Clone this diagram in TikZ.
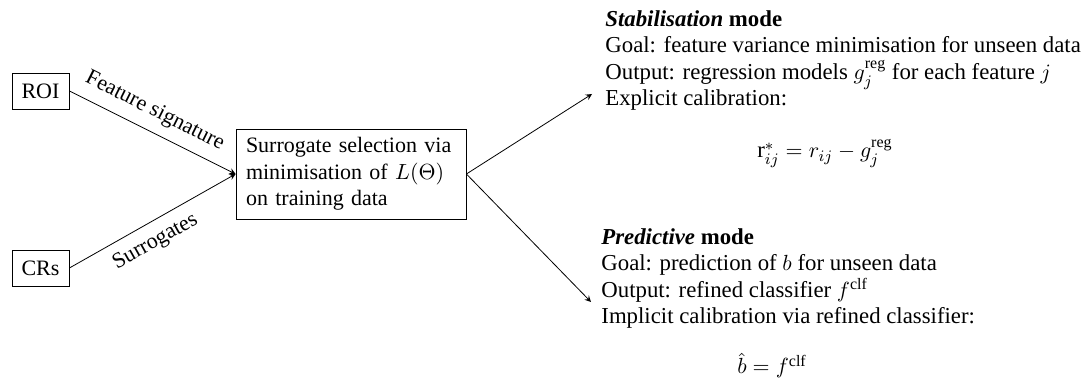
\documentclass[tikz,border=0pt]{standalone}
\usepackage{amsmath}
\usepackage{fontspec}
\setmainfont{Liberation Serif}
\usepackage{tikz}

\begin{document}
\begin{tikzpicture}[x=0.5pt,y=-0.5pt,>=stealth,
    every node/.style={font=\fontsize{11}{13.25}\selectfont},
    box/.style={draw,inner sep=3pt},
    txt/.style={align=left,inner sep=0pt,font=\fontsize{11.4}{13.25}\selectfont}]
      \useasboundingbox (0,0) rectangle (1081,384);
      \node[box,minimum width=28.5pt,minimum height=18pt] (roi) at (40.5,91) {ROI};
      \node[box,minimum width=28.5pt,minimum height=18pt] (crs) at (40.5,268) {CRs};
      \node[box,align=left,text width=105pt,inner xsep=5pt,minimum height=45pt] (sel) at (351,174) {Surrogate selection via\\minimisation of $L(\Theta)$\\on training data};
      \coordinate (stab) at (592,94);
      \coordinate (pred) at (591,302);
      \draw[->] (roi.east) -- (sel.west) node[pos=0.46,above=1.5pt,sloped] {Feature signature};
      \draw[->] (crs.east) -- (sel.west) node[pos=0.46,below=1.5pt,sloped] {Surrogates};
      \draw[->] (sel.east) -- (stab);
      \draw[->] (sel.east) -- (pred);
      % stabilisation mode
      \node[txt,anchor=base west] (stabtxt) at (605,106) {\textbf{\textit{Stabilisation}} \textbf{mode}\\
        Goal: feature variance minimisation for unseen data\\
        Output: regression models $g_j^{\mathrm{reg}}$ for each feature $j$\\
        Explicit calibration:};
      \node[txt,anchor=base] (stabeq) at (825,158) {$\mathrm{r}^*_{ij} = r_{ij} - g_j^{\mathrm{reg}}$};
      % predictive mode
      \node[txt,anchor=base west] (predtxt) at (601,324) {\textbf{\textit{Predictive}} \textbf{mode}\\
        Goal: prediction of $b$ for unseen data\\
        Output: refined classifier $f^{\mathrm{clf}}$\\
        Implicit calibration via refined classifier:};
      \node[txt,anchor=base] (predeq) at (772,374) {$\hat{b} = f^{\mathrm{clf}}$};
      % \draw[very thin,color=gray] (0,0) grid[step=50] (1081,384);
    \end{tikzpicture}
\end{document}
